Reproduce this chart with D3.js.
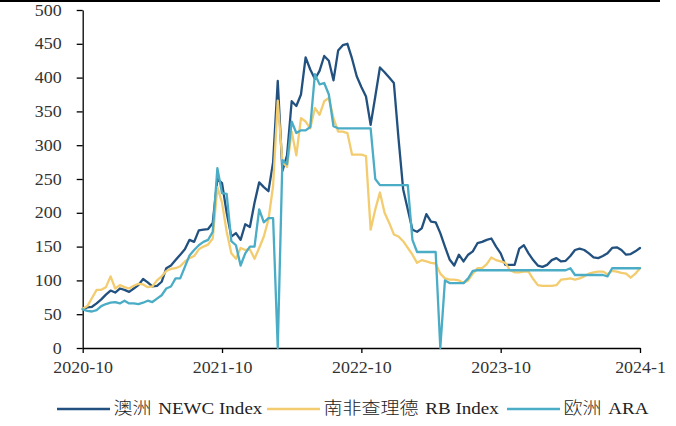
<!DOCTYPE html>
<html><head><meta charset="utf-8">
<script src="https://cdn.jsdelivr.net/npm/d3@7"></script>
<style>body{margin:0;background:#fff}svg{display:block}</style>
</head><body><svg id="c" width="676" height="426"></svg>
<script>
// ---- data ----
const tickLabels = ["2020-10","2021-10","2022-10","2023-10","2024-1"];
const tickIndex = [0,30,60,90,120];
const yTicks = [0,50,100,150,200,250,300,350,400,450,500];
const seriesNames = ["澳洲 NEWC Index","南非查理德 RB Index","欧洲 ARA"];
const seriesColors = ["#22517F","#F3CC6F","#4BACC6"];

const newc = [
 58,60,61,66,72,79,85,82,88,86,
 83,88,93,102,97,91,92,98,118,122,
 130,138,146,160,157,174,175,176,185,250,
 244,200,165,170,160,183,179,215,245,238,
 232,275,395,262,285,365,358,375,430,412,
 398,410,432,425,396,440,448,450,428,402,
 386,372,330,372,415,408,400,392,310,235,
 205,175,172,177,198,187,186,170,150,131,
 122,138,128,138,143,155,157,160,162,150,
 140,123,123,123,147,152,140,130,122,120,
 123,130,133,128,129,136,145,147,145,140,
 134,133,136,140,148,149,145,138,139,143,148];

const rb = [
 58,62,74,86,86,90,106,88,93,90,
 88,92,95,94,90,91,100,106,114,117,
 118,121,128,133,136,146,150,153,162,238,
 215,172,140,132,148,145,146,132,148,165,
 190,240,366,275,268,320,285,340,335,325,
 355,345,365,370,340,320,320,318,286,286,
 286,284,175,205,230,200,185,168,165,158,
 148,138,126,130,128,126,125,110,103,101,
 101,100,96,100,110,118,118,124,134,130,
 128,126,115,112,112,113,113,102,93,92,
 92,92,93,101,102,103,101,103,106,110,
 112,113,113,109,114,113,111,110,104,110,118];

const ara = [
 57,55,54,56,62,65,67,68,66,70,
 66,66,65,67,70,68,73,78,88,91,
 103,103,120,137,145,152,157,160,172,266,
 229,228,158,152,122,140,150,150,205,186,
 192,192,0,278,272,335,318,322,322,327,
 405,390,392,375,328,325,325,325,325,325,
 325,325,325,250,241,241,241,241,241,241,
 241,160,142,142,142,142,142,0,100,96,
 96,96,96,103,114,115,115,115,115,115,
 115,115,115,115,115,115,115,115,115,115,
 115,115,115,115,115,118,108,108,108,108,
 108,108,108,106,118,118,118,118,118,118,118];

// ---- drawing ----
const svg = d3.select("#c");
const SX = 1.12;
const FONT = "'Liberation Serif','Times New Roman','Noto Sans CJK SC',serif";
const x = d3.scaleLinear().domain([0, newc.length - 1]).range([82.7, 640]);
const y = d3.scaleLinear().domain([0, 500]).range([348, 10]);

// top border
svg.append("line").attr("x1",0).attr("x2",660).attr("y1",1).attr("y2",1)
  .attr("stroke","#000").attr("stroke-width",2);

// y axis
const gy = svg.append("g").attr("transform","translate(82.7,0)")
  .call(d3.axisLeft(y).tickValues(yTicks).tickSize(6).tickSizeOuter(0));
gy.select(".domain").attr("stroke","#000").attr("stroke-width",1.3);
gy.selectAll(".tick line").attr("stroke","#000").attr("stroke-width",1.3);
gy.selectAll(".tick text").attr("x",-18.75).attr("transform",`scale(${SX},1)`)
  .attr("font-family",FONT).attr("font-size",16).attr("fill","#333");

// x axis
const gx = svg.append("g").attr("transform","translate(0,348)")
  .call(d3.axisBottom(x).tickValues(tickIndex).tickFormat((d,i)=>tickLabels[i])
        .tickSize(5).tickSizeOuter(0).tickPadding(9));
gx.select(".domain").attr("stroke","#000").attr("stroke-width",1.3);
gx.selectAll(".tick line").attr("stroke","#000").attr("stroke-width",1.3);
gx.selectAll(".tick text").attr("transform",`scale(${SX},1)`)
  .attr("font-family",FONT).attr("font-size",16).attr("fill","#333");

// lines
const line = d3.line().x((d,i)=>x(i)).y(d=>y(d));
[newc, rb, ara].forEach((s,k)=>{
  svg.append("path").datum(s).attr("d",line).attr("fill","none")
    .attr("stroke",seriesColors[k]).attr("stroke-width",2.3)
    .attr("stroke-linejoin","round").attr("stroke-linecap","round");
});

// legend
const legX = [57, 267, 507];
const lg = svg.append("g");
seriesNames.forEach((n,k)=>{
  lg.append("line").attr("x1",legX[k]).attr("x2",legX[k]+53)
    .attr("y1",409).attr("y2",409).attr("stroke",seriesColors[k]).attr("stroke-width",2.3);
  const t = lg.append("g").attr("transform",`translate(${legX[k]+56.5},414) scale(${SX},1)`)
    .append("text").attr("x",0).attr("y",0)
    .attr("font-family",FONT).attr("font-size",17).attr("fill","#222");
  const sp = n.indexOf(" ");
  t.append("tspan").attr("font-weight",300).text(n.slice(0, sp));
  t.append("tspan").attr("dx",6).text(n.slice(sp + 1));
});
</script></body></html>
